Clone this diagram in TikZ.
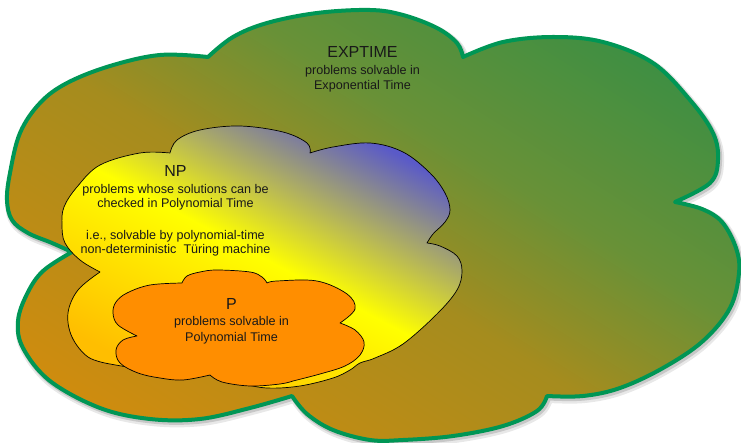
\documentclass[tikz,border=0pt]{standalone}
\usepackage{fontspec}
\setmainfont{Liberation Sans}
\definecolor{expborder}{RGB}{0,150,85}
\definecolor{expgreen}{RGB}{42,142,72}
\definecolor{expgreenolive}{RGB}{105,145,55}
\definecolor{expolive}{RGB}{165,140,30}
\definecolor{exporange}{RGB}{214,140,12}
\definecolor{npblue}{RGB}{90,90,200}
\definecolor{npyellow}{RGB}{255,255,0}
\definecolor{npgold}{RGB}{255,190,0}
\definecolor{porange}{RGB}{255,142,0}
\pgfdeclareverticalshading{expshade}{100bp}{color(0bp)=(exporange); color(18bp)=(exporange); color(47bp)=(expolive); color(60bp)=(expgreenolive); color(84bp)=(expgreen); color(100bp)=(expgreen)}
\def\expcloud{(72,252)
 -- plot[smooth,tension=0.6] coordinates {(72,252) (52,243) (28,233) (12,220) (7,200) (10,173) (20,133) (40,103) (67,83) (110,66) (160,55) (208,57)}
 -- plot[smooth,tension=0.6] coordinates {(208,57) (233,37) (267,23) (317,13) (370,10) (403,15) (437,28) (457,43) (463,57)}
 -- plot[smooth,tension=0.6] coordinates {(463,57) (503,42) (553,37) (603,42) (653,63) (690,100) (713,133) (718,160) (710,183) (675,202)}
 -- plot[smooth,tension=0.6] coordinates {(675,202) (702,209) (722,222) (736,248) (739,273) (730,308) (703,341) (663,368) (620,388) (583,396) (547,396)}
 -- plot[smooth,tension=0.6] coordinates {(547,396) (537,411) (503,426) (453,436) (403,440) (370,440) (333,430) (307,414) (292,396)}
 -- plot[smooth,tension=0.6] coordinates {(292,396) (250,408) (200,419) (150,419) (100,408) (50,381) (23,348) (18,321) (27,294) (43,271) (72,252)}
 -- cycle}
\def\npcloud{(100,272)
 -- plot[smooth,tension=0.6] coordinates {(100,272) (80,260) (65,243) (62,225) (64,207) (77,187) (100,165) (140,153) (170,153)}
 -- plot[smooth,tension=0.6] coordinates {(170,153) (177,140) (200,130) (240,126) (283,132) (307,143) (310,153)}
 -- plot[smooth,tension=0.6] coordinates {(310,153) (333,147) (370,143) (403,152) (430,173) (445,193) (450,210) (445,222) (433,234) (427,243)}
 -- plot[smooth,tension=0.6] coordinates {(427,243) (440,246) (457,256) (462,271) (457,290) (437,314) (403,344) (375,358) (360,363) (350,370) (333,378) (300,386) (267,388) (240,383) (210,375) (170,371) (135,368) (110,364)}
 -- plot[smooth,tension=0.6] coordinates {(110,364) (88,357) (72,337) (68,313) (78,290) (100,272)}
 -- cycle}
\def\pcloud{(137,336)
 -- plot[smooth,tension=0.6] coordinates {(137,336) (118,325) (113,313) (116,302) (127,293) (150,285) (182,283)}
 -- plot[smooth,tension=0.6] coordinates {(182,283) (187,276) (200,272) (217,270) (250,272) (262,277) (267,283)}
 -- plot[smooth,tension=0.6] coordinates {(267,283) (277,281) (317,281) (347,294) (355,309) (340,323)}
 -- plot[smooth,tension=0.6] coordinates {(340,323) (355,330) (364,342) (360,355) (345,366) (320,374) (293,381)}
 -- plot[smooth,tension=0.6] coordinates {(293,381) (280,384) (250,386) (222,382) (210,375)}
 -- plot[smooth,tension=0.6] coordinates {(210,375) (183,380) (160,378) (138,373) (120,363) (116,350) (123,340) (137,336)}
 -- cycle}
\tikzset{
  shadowsoft/.style={draw=black!9, fill=black!9, line width=8pt, line join=round},
  shadowhard/.style={draw=black!22, fill=black!22, line width=5pt, line join=round},
  bigcloud/.style={draw=expborder, line width=4pt, line join=round,
    shading=expshade, shading angle=-32},
  npcloudstyle/.style={draw=black, line width=0.7pt, line join=round,
    top color=npblue, bottom color=npgold, middle color=npyellow, shading angle=-28},
  pcloudstyle/.style={draw=black, line width=0.7pt, line join=round, fill=porange},
  titletext/.style={font=\fontsize{16}{18}\selectfont, inner sep=0pt, anchor=base, text=black!90},
  desctext/.style={font=\fontsize{12.6}{15}\selectfont, inner sep=0pt, anchor=base, text=black!90}
}
\begin{document}
\begin{tikzpicture}[x=1pt,y=-1pt]
\useasboundingbox (0,0) rectangle (741,443);
\path[shadowsoft, shift={(2pt,-3pt)}] \expcloud;
\path[shadowhard, shift={(1.5pt,-2pt)}] \expcloud;
\path[bigcloud] \expcloud;
\path[npcloudstyle] \npcloud;
\path[pcloudstyle] \pcloud;
\node[titletext] (exptitle) at (362.5,57.7) {EXPTIME};
\node[desctext] (expdesc1) at (362.5,74.3) {problems solvable in};
\node[desctext] (expdesc2) at (362.5,89.3) {Exponential Time};
\node[titletext] (nptitle) at (175.5,176.7) {NP};
\node[desctext] (npdesc1) at (175.5,193.3) {problems whose solutions can be};
\node[desctext] (npdesc2) at (175.5,207.6) {checked in Polynomial Time};
\node[desctext] (npdesc3) at (175.5,239.3) {i.e., solvable by polynomial-time};
\node[desctext] (npdesc4) at (175.5,254) {non-deterministic\ \ Türing machine};
\node[titletext] (ptitle) at (231.5,309.3) {P};
\node[desctext] (pdesc1) at (231.5,325.7) {problems solvable in};
\node[desctext] (pdesc2) at (231.5,341.7) {Polynomial Time};
\end{tikzpicture}
\end{document}
